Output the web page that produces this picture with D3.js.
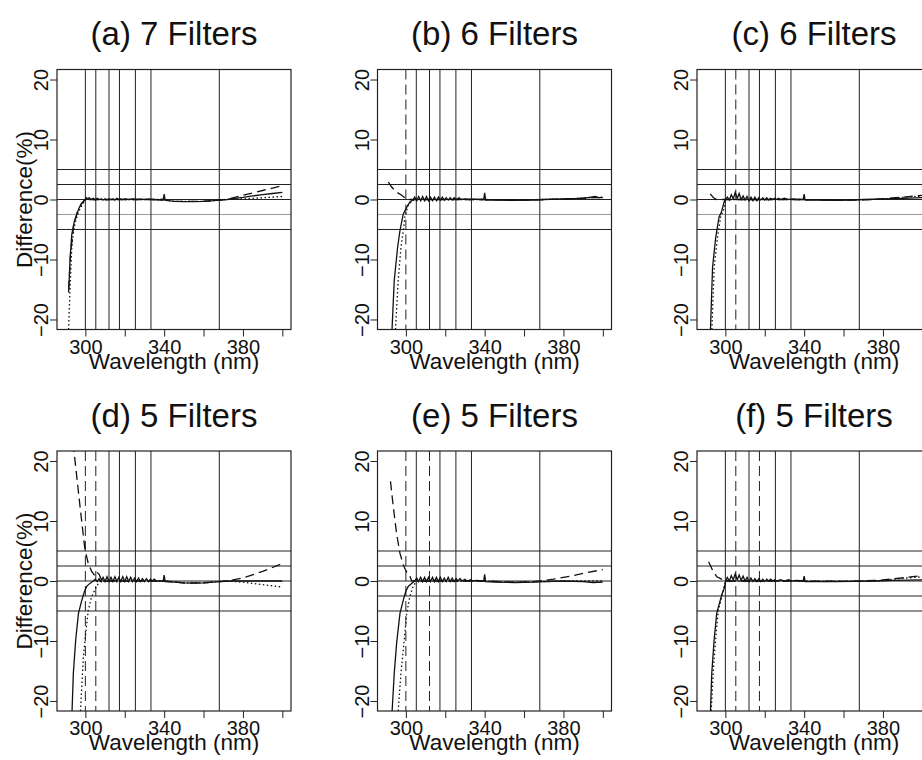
<!DOCTYPE html>
<html>
<head>
<meta charset="utf-8">
<script src="https://cdn.jsdelivr.net/npm/d3@7"></script>
<style>
  body { margin: 0; background: #fff; }
  text { font-family: "Liberation Sans", Arial, Helvetica, sans-serif; fill: #111; }
</style>
</head>
<body>
<svg id="chart" width="922" height="760"></svg>
<script>
var panelTitles = ['(a) 7 Filters', '(b) 6 Filters', '(c) 6 Filters', '(d) 5 Filters', '(e) 5 Filters', '(f) 5 Filters'];
var filterCenters = [300, 305.3, 312, 317.3, 325.4, 333.3, 368];
// filters left out of each fit (drawn dashed)
var removedFilters = [[], [300], [305.3], [300, 305.3], [300, 312], [305.3, 317.3]];
var bandLines = [5, 2.5, 0, -2.5, -5];
var xTicks = [300, 320, 340, 360, 380, 400];
var xTickLabels = [300, 340, 380];
var yTicks = [-20, -10, 0, 10, 20];

// (a)
var solidA = [[291.5,-15.5],[292.3,-9.6],[293.1,-5.8],[294.4,-3.6],[295.6,-2.5],[296.8,-1.4],[298.2,-0.6],[299.8,0],[300.5,0.3],[301,0.1],[302,0.3],[303,0],[304,0.2],[305,-0.1],[306,0.2],[307,0],[308,0.1],[309,-0.1],[310,0.1],[311,-0.1],[312,0.1],[313,0],[314,0.1],[315,-0.1],[316,0.2],[317,0],[318,0.1],[319,0],[320,0.1],[322,0],[324,0.1],[326,0],[328,0.05],[330,0],[332,0.05],[334,0],[336,-0.05],[338,-0.1],[339.5,-0.1],[340,0.9],[340.5,-0.1],[342,-0.2],[345,-0.3],[350,-0.35],[355,-0.35],[360,-0.3],[365,-0.2],[368,-0.1],[372,0],[376,0.2],[380,0.35],[385,0.6],[390,0.8],[395,1.0],[400,1.2]];
var dottedA = [[291.3,-23],[292.4,-13.5],[293.1,-8],[294,-5.2],[295.1,-3.5],[296.5,-2.1],[298.2,-1],[300,0],[310,0],[320,0],[340,0],[345,-0.3],[360,-0.3],[368,-0.1],[372,0],[380,0.1],[390,0.3],[400,0.5]];
var dashedA = [[291.5,-15],[292.5,-9],[294,-4.5],[296,-2],[298,-0.7],[300,0],[320,0],[340,0],[345,-0.3],[360,-0.3],[368,-0.1],[373,0.1],[380,0.7],[390,1.5],[400,2.3]];

// (b)
var solidB = [[292.8,-23],[294.1,-13.5],[295.8,-8],[297,-5.2],[298.7,-2.4],[300.4,-1.3],[302,-0.45],[303.7,0],[304.5,0.4],[305.5,-0.2],[306.5,0.5],[307.5,-0.2],[308.5,0.5],[309.5,-0.2],[310.5,0.5],[311.5,-0.2],[312.5,0.4],[313.5,-0.2],[314.5,0.4],[315.5,-0.2],[316.5,0.4],[317.5,-0.1],[318.5,0.4],[319.5,-0.1],[320.5,0.3],[321.5,-0.1],[322.5,0.3],[323.5,-0.1],[324.5,0.3],[325.5,0],[327,0.3],[328,0],[330,0.1],[332,0],[335,0.05],[338,0],[339.5,0],[340,1.1],[340.5,-0.1],[345,-0.1],[355,-0.15],[365,-0.1],[370,0],[380,0.1],[390,0.2],[394,0.4],[396,0.5],[398,0.3],[400,0.3]];
var dottedB = [[294.5,-23],[296.1,-13.5],[297.5,-8],[298.7,-5.2],[299.5,-2.9],[301.1,-1],[303.1,-0.2],[305,0],[320,0],[340,0],[360,-0.1],[380,0.1],[395,0.3],[400,0.4]];
var dashedB = [[291.1,2.9],[293,2.0],[295,1.3],[297.9,0.7],[300.4,0],[305,0],[340,0],[360,-0.1],[380,0.1],[395,0.3],[400,0.3]];

// (c)
var solidC = [[292.3,-23],[293.5,-11.3],[295.1,-6.3],[296.8,-2.9],[298,-2.1],[299.3,-0.45],[300,0],[301,0.4],[302,-0.1],[303,0.8],[304,0.1],[305,1.2],[306,0.2],[307,1.0],[308,0],[309,0.6],[310,-0.1],[311,0.5],[312,-0.2],[313,0.4],[314,-0.2],[315,0.4],[316,-0.2],[317,0.3],[318,-0.1],[319,0.3],[320,-0.1],[321,0.3],[322,-0.1],[323,0.2],[324,0],[325,0.2],[326,0],[327,0.2],[328,0],[330,0.2],[332,0],[334,0.1],[336,0],[339.5,0],[340,0.9],[340.5,-0.1],[345,-0.1],[355,-0.15],[365,-0.1],[370,0],[380,0.1],[390,0.2],[400,0.3]];
var dottedC = [[293,-23],[294.3,-11.3],[296,-6.3],[297.6,-2.9],[299.3,-1.5],[300,0],[320,0],[340,0],[360,-0.1],[375,0],[385,0.2],[392,0.4],[400,0.6]];
var dashedC = [[292.3,0.95],[294,0.3],[295.6,0],[300,0],[340,0],[360,-0.1],[375,0],[385,0.25],[392,0.45],[400,0.7]];

// (d)
var solidD = [[293.1,-23],[293.9,-15.4],[295.1,-9.8],[296.5,-5.4],[298.2,-3.2],[299.5,-1.8],[300.7,-0.9],[302.3,-0.4],[304,0],[305,0.3],[306,-0.1],[307,0.4],[308,-0.1],[309,0.6],[310,-0.1],[311,0.7],[312,-0.1],[313,0.6],[314,-0.1],[315,0.7],[316,-0.1],[317,0.6],[318,-0.1],[319,0.7],[320,-0.1],[321,0.7],[322,-0.1],[323,0.6],[324,-0.1],[325,0.5],[326,-0.1],[327,0.5],[328,-0.1],[329,0.4],[330,-0.1],[331,0.4],[332,-0.1],[333,0.3],[334,0],[335,0.3],[336,0],[338,0],[339.5,0],[340,1.0],[340.5,-0.1],[345,-0.2],[350,-0.3],[355,-0.35],[360,-0.3],[365,-0.2],[368,-0.1],[375,0],[385,0],[400,0]];
var dottedD = [[297.3,-23],[299,-12.6],[300.2,-8.7],[301.5,-4.8],[303.2,-2.6],[304.8,-1.5],[305.5,-1],[307.4,0],[320,0],[340,0],[350,-0.3],[360,-0.3],[368,-0.1],[372,0],[380,-0.2],[390,-0.6],[400,-1.0]];
var dashedD = [[293.8,23],[294.2,21.7],[297.3,12.4],[299.8,5.2],[301.5,2.9],[303.2,1.6],[304.8,0.9],[305.8,1.5],[307,1.1],[308.5,0],[320,0],[340,0],[350,-0.3],[360,-0.3],[368,-0.1],[372,0],[380,0.5],[390,1.6],[400,2.9]];

// (e)
var solidE = [[292.8,-23],[294.1,-15.4],[295.3,-10.4],[297,-5.4],[298.7,-3.2],[299.9,-1.8],[301.2,-0.9],[302.9,-0.4],[304.5,0],[305.5,0.5],[306.5,-0.1],[307.5,0.6],[308.5,-0.1],[309.5,0.6],[310.5,-0.1],[311.5,0.6],[312.5,-0.1],[313.5,0.6],[314.5,-0.1],[315.5,0.6],[316.5,-0.1],[317.5,0.6],[318.5,-0.1],[319.5,0.5],[320.5,-0.1],[321.5,0.6],[322.5,-0.1],[323.5,0.5],[324.5,-0.1],[325.5,0.4],[326.5,0],[327.5,0.4],[328.5,0],[330,0.3],[331,0],[333,0.2],[334,0],[336,0.1],[338,0],[339.5,0],[340,1.1],[340.5,-0.1],[345,-0.2],[355,-0.25],[365,-0.2],[370,-0.1],[380,0],[390,-0.1],[395,-0.25],[400,-0.2]];
var dottedE = [[295.8,-23],[297.5,-15.4],[299.2,-9.8],[300.4,-5.4],[302,-2.6],[303.7,-0.9],[305.4,0],[320,0],[340,0],[355,-0.2],[370,-0.1],[385,0],[400,0]];
var dashedE = [[292.2,16.6],[293.6,12.4],[295.3,7.9],[297,4.6],[298.7,2.7],[299.9,1.8],[300.8,1.3],[301.8,1.0],[303,0],[320,0],[340,0],[355,-0.2],[365,-0.1],[375,0.3],[385,0.9],[392,1.4],[400,1.9]];

// (f)
var solidF = [[292.3,-23],[293.1,-15.4],[294.3,-9.8],[295.6,-5.4],[297,-3.7],[298.2,-2.3],[299.4,-1.2],[300.2,0],[301,0.6],[302,0],[303,0.9],[304,0.2],[305,1.2],[306,0.2],[307,1.0],[308,0.1],[309,0.8],[310,0],[311,0.6],[312,-0.1],[313,0.5],[314,-0.1],[315,0.4],[316,-0.1],[317,0.4],[318,-0.1],[319,0.3],[320,-0.1],[321,0.3],[322,0],[323,0.3],[324,0],[325,0.2],[326,0],[328,0.2],[330,0],[332,0.2],[334,0],[336,0.1],[339.5,0],[340,0.8],[340.5,-0.1],[345,-0.1],[355,-0.1],[365,-0.05],[375,0],[385,0.1],[400,0.2]];
var dottedF = [[292.6,-23],[294,-14.3],[295.3,-8.7],[296.5,-4.8],[298.2,-2.6],[300,0],[320,0],[340,0],[360,-0.05],[378,0],[385,0.3],[392,0.5],[400,0.7]];
var dashedF = [[291.5,3.2],[293.5,1.8],[295.7,0.7],[299.9,0],[320,0],[340,0],[360,-0.05],[378,0.1],[385,0.35],[392,0.6],[400,0.9]];

var panelSeries = [
    [solidA, dottedA, dashedA],
    [solidB, dottedB, dashedB],
    [solidC, dottedC, dashedC],
    [solidD, dottedD, dashedD],
    [solidE, dottedE, dashedE],
    [solidF, dottedF, dashedF]
];

var svg = d3.select('#chart');
var colX = [57, 377.5, 697];
var rowY = [69.5, 451];
var pw = 234, ph = 260;

var x = d3.scaleLinear().domain([285.6, 404.4]).range([0, pw]);
var y = d3.scaleLinear().domain([-21.67, 21.67]).range([ph, 0]);
var line = d3.line().x(d => x(d[0])).y(d => y(d[1]));
var seriesDash = [null, '1.5,2.5', '9,5'];

svg.append('defs').append('clipPath').attr('id', 'plotClip')
    .append('rect').attr('width', pw).attr('height', ph);

panelTitles.forEach(function(title, i) {
    var col = i % 3, row = Math.floor(i / 3);
    var g = svg.append('g').attr('transform', 'translate(' + colX[col] + ',' + rowY[row] + ')');
    var plot = g.append('g').attr('clip-path', 'url(#plotClip)');

    // reference bands at 0, +-2.5, +-5 %
    plot.selectAll('.band').data(bandLines).enter().append('line')
        .attr('x1', 0).attr('x2', pw)
        .attr('y1', d => y(d)).attr('y2', d => y(d))
        .style('stroke', d => (row === 0 && d === -2.5) ? '#999' : '#222')
        .style('stroke-width', 1);

    // filter wavelengths
    plot.selectAll('.filter').data(filterCenters).enter().append('line')
        .attr('x1', d => x(d)).attr('x2', d => x(d))
        .attr('y1', 0).attr('y2', ph)
        .style('stroke', '#222').style('stroke-width', 1)
        .style('stroke-dasharray', d => removedFilters[i].indexOf(d) >= 0 ? '10,5' : null);

    // difference curves
    plot.selectAll('.curve').data(panelSeries[i]).enter().append('path')
        .attr('d', line)
        .style('fill', 'none').style('stroke', '#111').style('stroke-width', 1.3)
        .style('stroke-dasharray', (d, k) => seriesDash[k]);

    g.append('rect').attr('width', pw).attr('height', ph)
        .style('fill', 'none').style('stroke', '#222').style('stroke-width', 1.2);

    // axes
    var xAxis = d3.axisBottom(x).tickValues(xTicks).tickSize(7).tickPadding(3)
        .tickFormat(d => xTickLabels.indexOf(d) >= 0 ? d : '');
    var xg = g.append('g').attr('transform', 'translate(0,' + ph + ')').call(xAxis);
    xg.select('.domain').remove();
    xg.selectAll('line').style('stroke', '#222');
    xg.selectAll('text').style('font-size', '20px');

    var yAxis = d3.axisLeft(y).tickValues(yTicks).tickSize(7);
    var yg = g.append('g').call(yAxis);
    yg.select('.domain').remove();
    yg.selectAll('line').style('stroke', '#222');
    yg.selectAll('text')
        .attr('transform', 'rotate(-90)')
        .attr('x', 0).attr('y', -9).attr('dy', null)
        .style('text-anchor', 'middle')
        .style('font-size', '20px');

    g.append('text')
        .attr('x', pw / 2).attr('y', -24.5)
        .style('text-anchor', 'middle').style('font-size', '33px')
        .text(title);

    g.append('text')
        .attr('x', pw / 2).attr('y', ph + 39)
        .style('text-anchor', 'middle').style('font-size', '22.5px')
        .text('Wavelength (nm)');

    if (col === 0) {
        g.append('text')
            .attr('transform', 'translate(-25,' + (ph / 2) + ') rotate(-90)')
            .style('text-anchor', 'middle').style('font-size', '22.5px')
            .text('Difference(%)');
    }
});
</script>
</body>
</html>
